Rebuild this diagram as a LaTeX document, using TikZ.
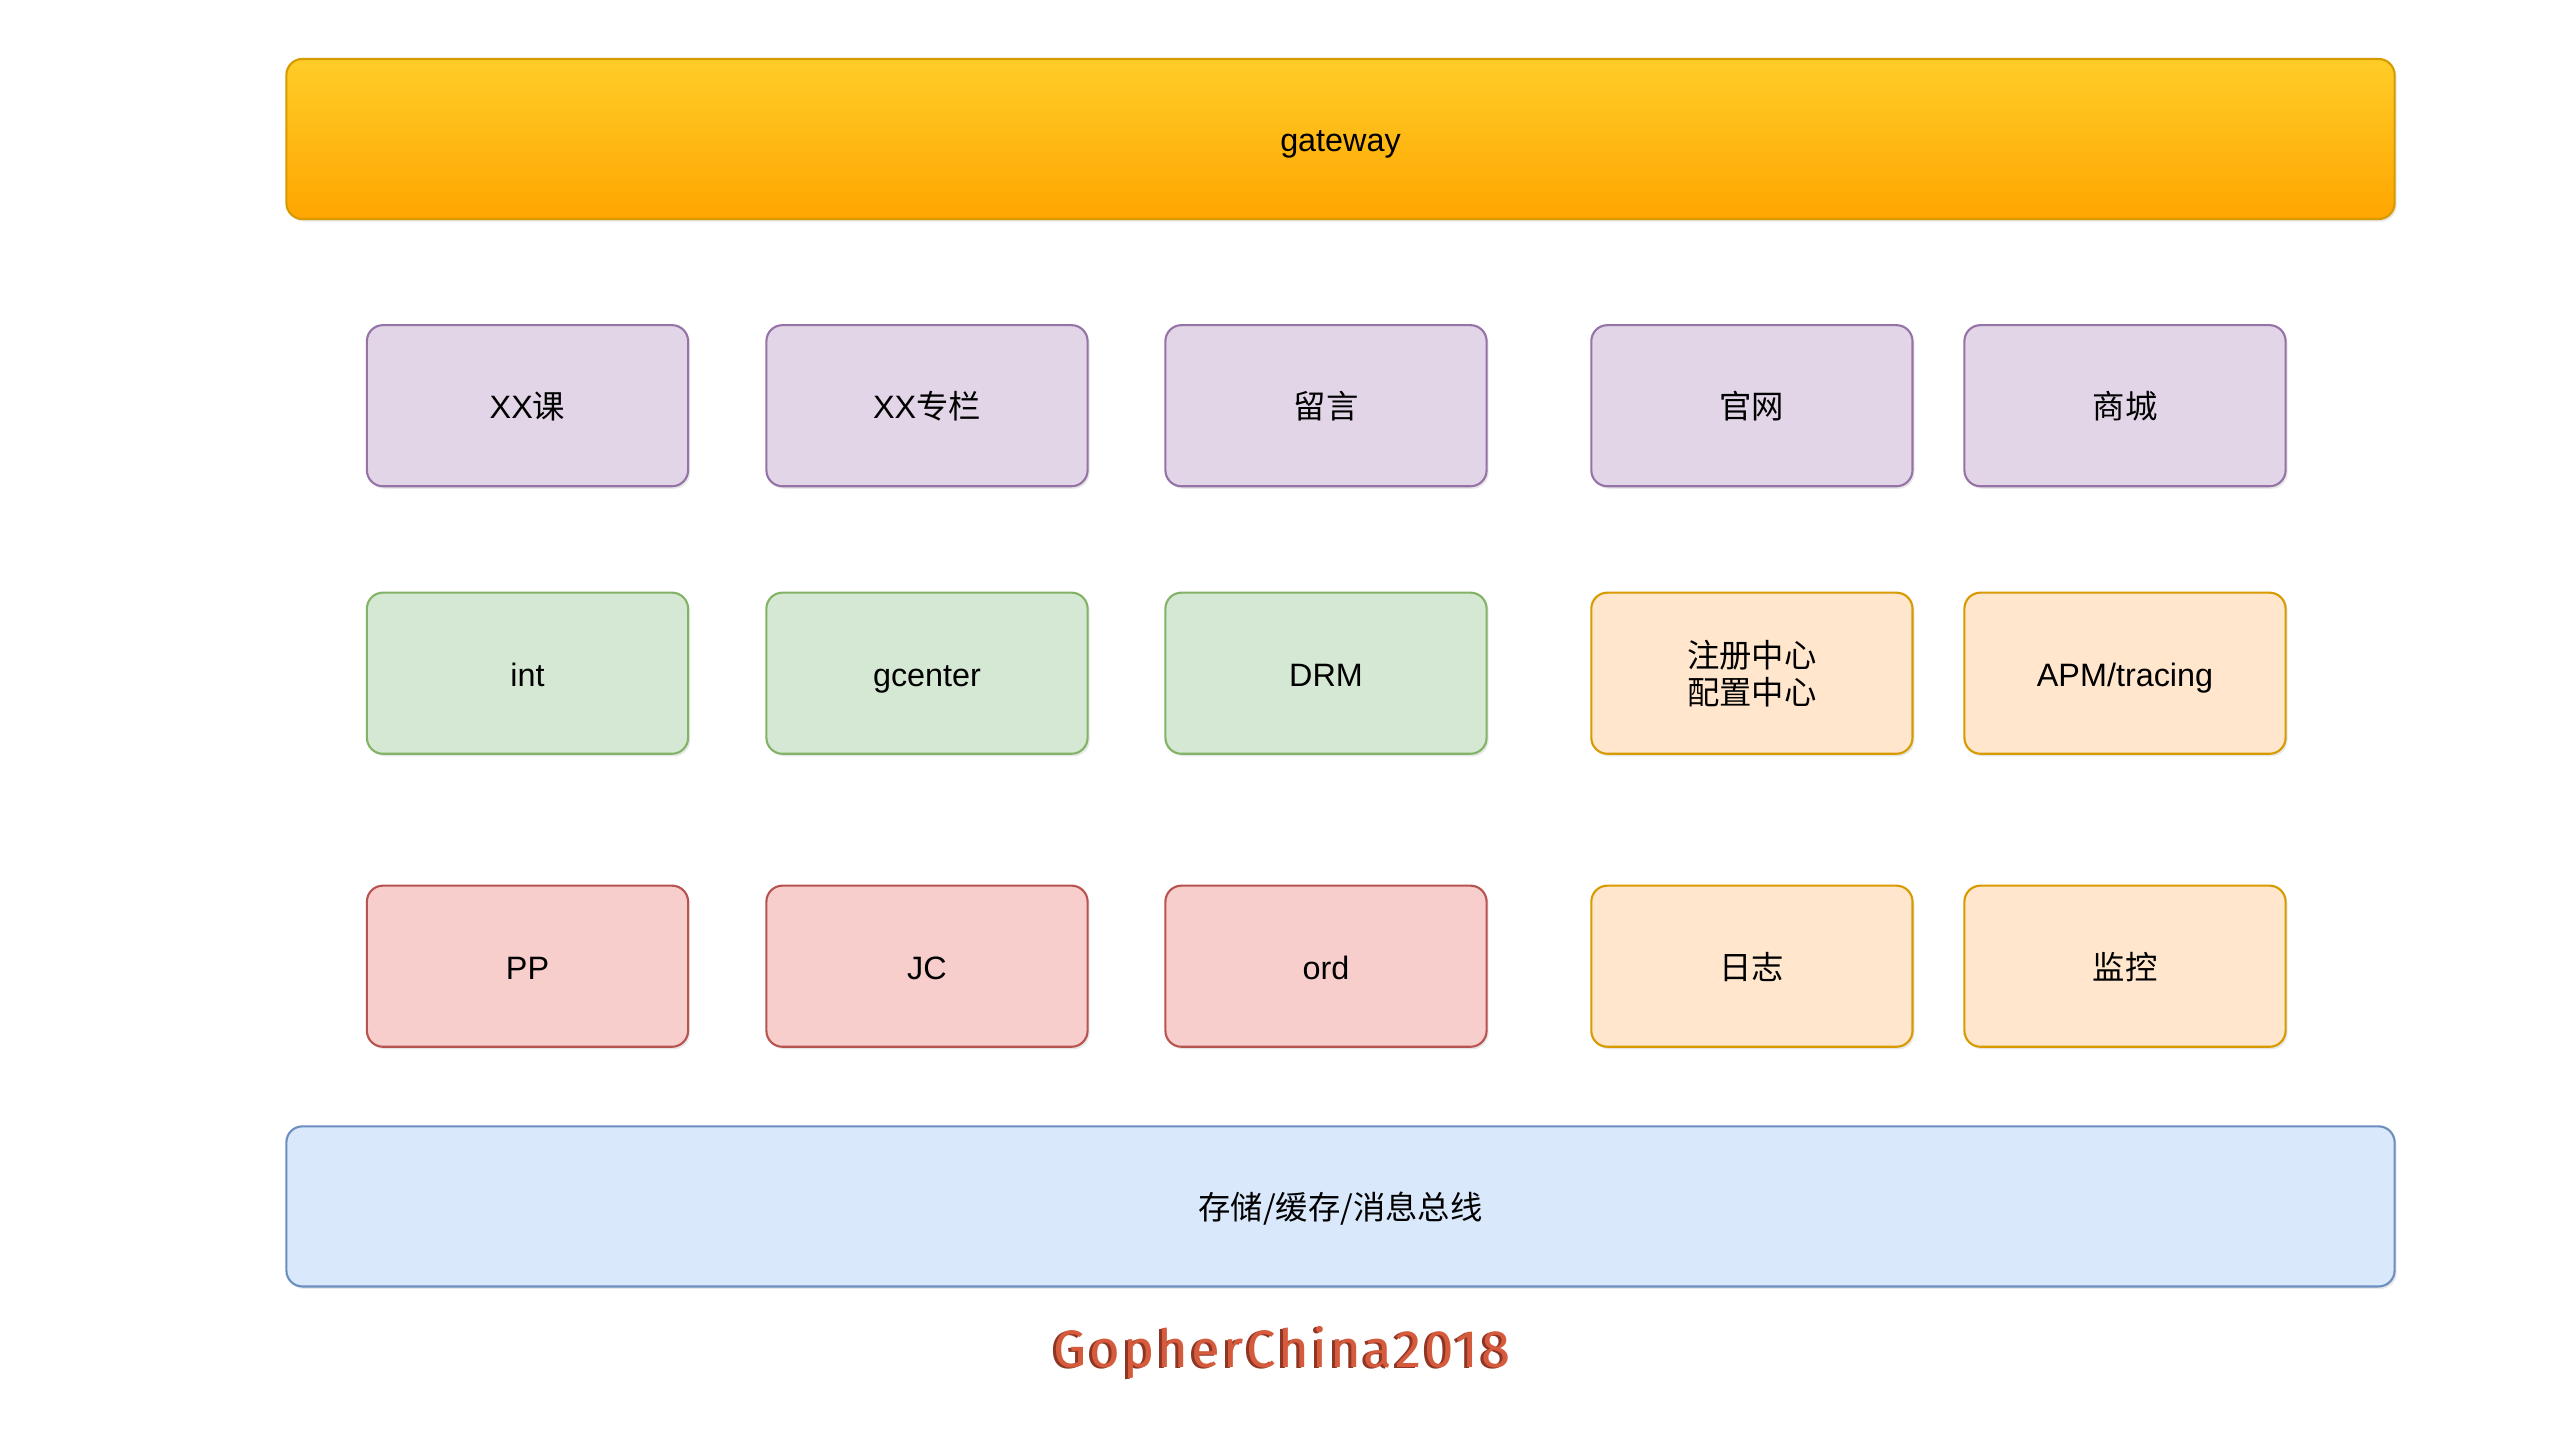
\documentclass[tikz,border=0pt]{standalone}
\usepackage{fontspec}
\setmainfont{Liberation Sans}
\newfontfamily\cjk{Noto Sans CJK SC}
\newfontfamily\gfont[LetterSpace=5.5]{Fira Sans}
\usetikzlibrary{shadows}
\definecolor{gwtop}{HTML}{FFCD28}
\definecolor{gwbot}{HTML}{FFA500}
\definecolor{gwline}{HTML}{D79B00}
\definecolor{pufill}{HTML}{E1D5E7}
\definecolor{puline}{HTML}{9673A6}
\definecolor{grfill}{HTML}{D5E8D4}
\definecolor{grline}{HTML}{82B366}
\definecolor{orfill}{HTML}{FFE6CC}
\definecolor{orline}{HTML}{D79B00}
\definecolor{rdfill}{HTML}{F8CECC}
\definecolor{rdline}{HTML}{B85450}
\definecolor{blfill}{HTML}{DAE8FC}
\definecolor{blline}{HTML}{6C8EBF}
\definecolor{gopher}{HTML}{D65B3D}
\definecolor{gophersh}{HTML}{8E3626}
\tikzset{
  base/.style={rectangle, rounded corners=0.16cm, line width=0.6pt,
    font=\fontsize{9.2pt}{11pt}\selectfont, text=black, align=center,
    drop shadow={shadow xshift=0.02cm, shadow yshift=-0.025cm, opacity=0.18}},
  oneline/.style={text height=8.5pt, text depth=1.2pt},
  svc/.style={base, minimum width=3.21cm, minimum height=1.61cm},
  wide/.style={base, oneline, minimum width=21.07cm, minimum height=1.60cm},
  purplebox/.style={svc, oneline, draw=puline, fill=pufill},
  greenbox/.style={svc, oneline, draw=grline, fill=grfill},
  orangebox/.style={svc, draw=orline, fill=orfill},
  redbox/.style={svc, oneline, draw=rdline, fill=rdfill},
  gatebox/.style={wide, draw=gwline, top color=gwtop, bottom color=gwbot},
  busbox/.style={wide, draw=blline, fill=blfill},
  brand/.style={font=\gfont\fontsize{15pt}{17pt}\selectfont, inner sep=0pt}
}
\begin{document}
\begin{tikzpicture}[x=0.01cm, y=-0.01cm]
\useasboundingbox[fill=white] (0,0) rectangle (2559,1439);
% gateway
\node[gatebox] (gw) at (1340.5,139) {gateway};
% row 1
\node[purplebox] (xxk) at (527.5,405.7) {XX{\cjk 课}};
\node[purplebox] (xxz) at (927,405.7) {XX{\cjk 专栏}};
\node[purplebox] (ly)  at (1326,405.7) {{\cjk 留言}};
\node[purplebox] (gwz) at (1751.9,405.7) {{\cjk 官网}};
\node[purplebox] (sc)  at (2125,405.7) {{\cjk 商城}};
% row 2
\node[greenbox] (int) at (527.5,673.2) {int};
\node[greenbox] (gc)  at (927,673.2) {gcenter};
\node[greenbox] (drm) at (1326,673.2) {DRM};
\node[orangebox] (zc) at (1751.9,673.2) {{\cjk 注册中心}\\[-0.5pt]{\cjk 配置中心}};
\node[orangebox, oneline] (apm) at (2125,673.2) {APM/tracing};
% row 3
\node[redbox] (pp)  at (527.5,966.2) {PP};
\node[redbox] (jc)  at (927,966.2) {JC};
\node[redbox] (ord) at (1326,966.2) {ord};
\node[orangebox, oneline] (rz) at (1751.9,966.2) {{\cjk 日志}};
\node[orangebox, oneline] (jk) at (2125,966.2) {{\cjk 监控}};
% bus
\node[busbox] (bus) at (1340.5,1206.4) {{\cjk 存储/缓存/消息总线}};
% brand
\node[brand, text=gophersh] (brandsh) at (1279,1354) {GopherChina2018};
\node[brand, text=gopher] (brandtx) at (1282,1353) {GopherChina2018};
\end{tikzpicture}
\end{document}
